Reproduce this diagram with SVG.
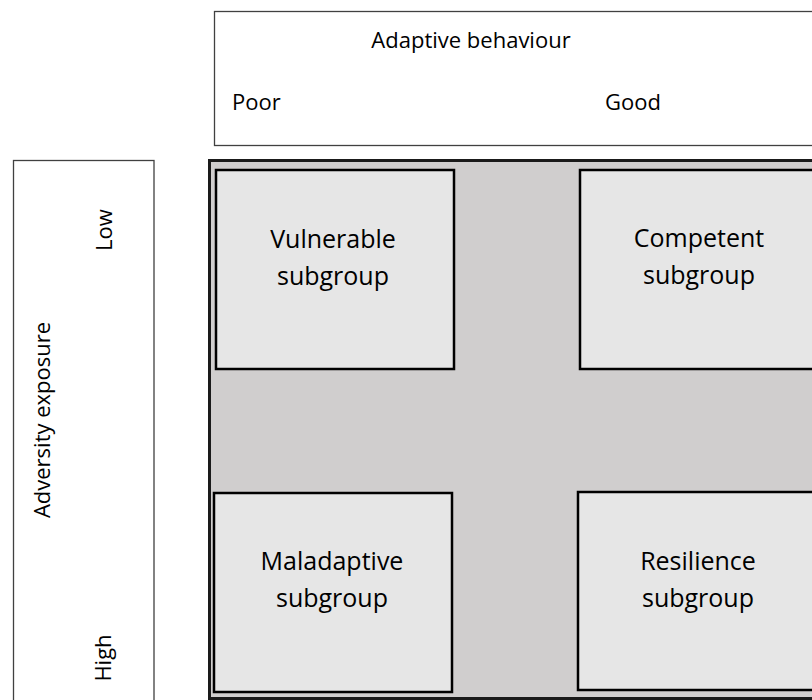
<svg xmlns="http://www.w3.org/2000/svg" width="812" height="700" viewBox="0 0 812 700">
<style>
.axis{fill:#ffffff;stroke:#404040;stroke-width:1.3}
.field{fill:#d0cece;stroke:#1a1a1a;stroke-width:3}
.cell{fill:#e6e6e6;stroke:#000000;stroke-width:2.5}
text{font-family:"Open Sans","Liberation Sans",sans-serif;fill:#000000}
.lbl{font-size:22px}
.cl{font-size:25px;text-anchor:middle}
</style>
<rect width="812" height="700" fill="#ffffff"/>
<g id="x-axis">
<rect class="axis" x="214.5" y="11.5" width="620" height="134"/>
<text class="lbl" x="471" y="48" text-anchor="middle">Adaptive behaviour</text>
<text class="lbl" x="232" y="110">Poor</text>
<text class="lbl" x="605" y="110">Good</text>
</g>
<g id="y-axis">
<rect class="axis" x="13.5" y="160.5" width="140.5" height="560"/>
<text class="lbl" text-anchor="middle" transform="translate(112,230) rotate(-90)">Low</text>
<text class="lbl" text-anchor="middle" transform="translate(50,420) rotate(-90)">Adversity exposure</text>
<text class="lbl" text-anchor="middle" transform="translate(111,658) rotate(-90)">High</text>
</g>
<g id="field">
<rect class="field" x="209.5" y="160.5" width="640" height="538"/>
</g>
<g id="vulnerable">
<rect class="cell" x="216" y="170" width="238" height="199"/>
<text class="cl" x="333" y="248">Vulnerable</text>
<text class="cl" x="333" y="285">subgroup</text>
</g>
<g id="competent">
<rect class="cell" x="580" y="170" width="260" height="199"/>
<text class="cl" x="699" y="247">Competent</text>
<text class="cl" x="699" y="284">subgroup</text>
</g>
<g id="maladaptive">
<rect class="cell" x="214" y="493" width="238" height="199"/>
<text class="cl" x="332" y="570">Maladaptive</text>
<text class="cl" x="332" y="607">subgroup</text>
</g>
<g id="resilience">
<rect class="cell" x="578" y="492" width="260" height="198"/>
<text class="cl" x="698" y="570">Resilience</text>
<text class="cl" x="698" y="607">subgroup</text>
</g>
<g id="connectors"></g>
</svg>
